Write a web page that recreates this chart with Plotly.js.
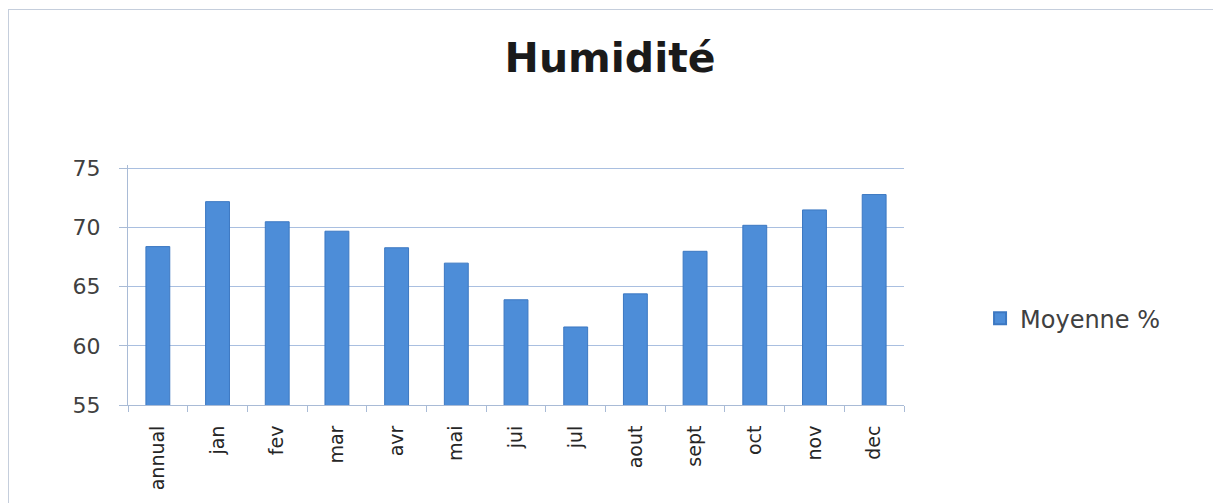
<!DOCTYPE html>
<html>
<head>
<meta charset="utf-8">
<script src="https://cdn.plot.ly/plotly-3.0.1.min.js"></script>
<style>
  html, body { margin: 0; padding: 0; background: #ffffff; }
  #wrap { position: relative; width: 1213px; height: 503px; }
  #chart { width: 1213px; height: 503px; }
  #frame { position: absolute; left: 8px; top: 9px; width: 1210px; height: 500px;
           border: 1px solid #c5cedc; pointer-events: none; }
</style>
</head>
<body>
<div id="wrap">
  <div id="chart"></div>
  <div id="frame"></div>
</div>
<script>
const categories = ["annual", "jan", "fev", "mar", "avr", "mai", "jui", "jul", "aout", "sept", "oct", "nov", "dec"];
const moyenne = [68.4, 72.2, 70.5, 69.7, 68.3, 67.0, 63.9, 61.6, 64.4, 68.0, 70.2, 71.5, 72.8];
const seriesName = "Moyenne %";
const yTicks = [55, 60, 65, 70, 75];
const chartTitle = "Humidité";

const trace = {
  type: "bar",
  x: categories,
  y: moyenne,
  name: seriesName,
  width: 0.4,
  marker: { color: "#4d8dd8", line: { color: "#3c78c2", width: 1 } },
  showlegend: true
};

const layout = {
  width: 1213,
  height: 503,
  paper_bgcolor: "#ffffff",
  plot_bgcolor: "#ffffff",
  margin: { l: 128, r: 309, t: 165, b: 98 },
  title: {
    text: "<b>" + chartTitle + "</b>",
    font: { family: "DejaVu Sans", size: 41, color: "#1a1a1a" },
    x: 0.503, xanchor: "center", xref: "container",
    y: 0.885, yanchor: "middle", yref: "container"
  },
  font: { family: "DejaVu Sans", color: "#404040" },
  xaxis: {
    type: "category",
    tickangle: -90,
    tickfont: { family: "DejaVu Sans", size: 19, color: "#262626" },
    showgrid: false,
    showline: true,
    linecolor: "#a9bbd6",
    linewidth: 1,
    ticks: "outside",
    tickson: "boundaries",
    ticklen: 6,
    tickcolor: "#a9bbd6",
    ticklabelstandoff: 12,
    zeroline: false,
    fixedrange: true
  },
  yaxis: {
    range: [55, 75.3],
    tickvals: yTicks,
    ticktext: yTicks.map(String),
    tickfont: { family: "DejaVu Sans", size: 22, color: "#404040" },
    showgrid: true,
    gridcolor: "#a9bfe0",
    gridwidth: 1,
    showline: true,
    linecolor: "#a9bbd6",
    linewidth: 1,
    ticks: "outside",
    ticklen: 8,
    tickcolor: "#a9bbd6",
    ticklabelstandoff: 14,
    zeroline: false,
    fixedrange: true
  },
  showlegend: true,
  legend: {
    x: 1.098, xanchor: "left",
    y: 0.36, yanchor: "middle",
    font: { family: "DejaVu Sans", size: 24, color: "#404040" },
    bgcolor: "rgba(0,0,0,0)",
    itemsizing: "constant",
    itemwidth: 30
  },
  bargap: 0.6
};

Plotly.newPlot("chart", [trace], layout, { displayModeBar: false, staticPlot: true });
</script>
</body>
</html>
